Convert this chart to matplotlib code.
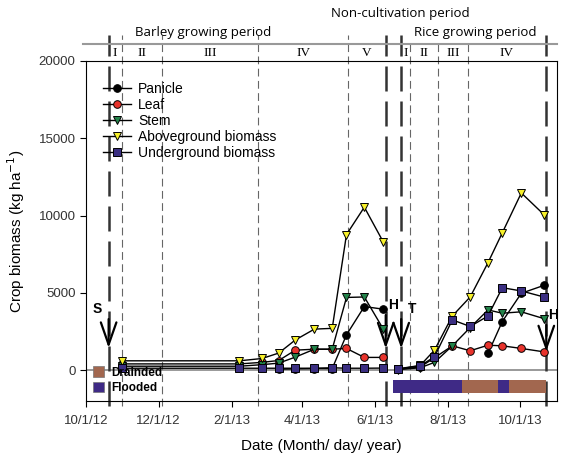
import pandas as pd
import matplotlib.pyplot as plt
import matplotlib.dates as mdates
from matplotlib.patches import Patch

plt.rcParams['font.family'] = ['Liberation Sans', 'DejaVu Sans']

# barley sampling dates and biomass (kg/ha)
barley_dates = ['2012-10-31', '2013-02-07', '2013-02-26', '2013-03-12', '2013-03-26',
                '2013-04-11', '2013-04-26', '2013-05-08', '2013-05-23', '2013-06-08']
barley_panicle = [None, None, None, 60, 80, 100, 100, 2280, 4110, 3940]
barley_leaf = [400, 400, 500, 620, 1290, 1350, 1350, 1400, 820, 820]
barley_stem = [250, 250, 350, 450, 840, 1350, 1350, 4700, 4730, 2650]
barley_above = [600, 600, 750, 1100, 1950, 2650, 2700, 8770, 10540, 8280]
barley_under = [120, 120, 120, 120, 120, 120, 150, 120, 120, 130]

# rice sampling dates and biomass (kg/ha)
rice_dates = ['2013-06-20', '2013-07-09', '2013-07-21', '2013-08-05', '2013-08-20',
              '2013-09-04', '2013-09-16', '2013-10-02', '2013-10-21']
rice_panicle = [None, None, None, None, None, 1080, 3140, 4970, 5480]
rice_leaf = [50, 200, 800, 1570, 1250, 1610, 1570, 1400, 1180]
rice_stem = [30, 150, 500, 1570, 2750, 3890, 3680, 3770, 3330]
rice_above = [80, 300, 1290, 3500, 4730, 6950, 8880, 11460, 10060]
rice_under = [60, 280, 860, 3250, 2820, 3500, 5330, 5120, 4730]

# field events: sowing, harvest, transplanting, harvest
event_dates = ['2012-10-20', '2013-06-10', '2013-06-23', '2013-10-23']
event_labels = ['S', 'H', 'T', 'H']

# growth stage boundaries
barley_bounds = ['2012-10-20', '2012-10-31', '2012-12-04', '2013-02-23', '2013-05-09', '2013-06-10']
barley_stages = ['I', 'II', 'III', 'IV', 'V']
rice_bounds = ['2013-06-23', '2013-06-30', '2013-07-24', '2013-08-18', '2013-10-23']
rice_stages = ['I', 'II', 'III', 'IV']

# water regime in rice paddy
water_start = ['2013-06-16', '2013-08-13', '2013-09-12', '2013-09-22']
water_end = ['2013-08-13', '2013-09-12', '2013-09-22', '2013-10-23']
water_state = ['Flooded', 'Drainded', 'Flooded', 'Drainded']

series = [
    ('Panicle', barley_panicle, rice_panicle, 'o', 'black'),
    ('Leaf', barley_leaf, rice_leaf, 'o', '#e8332c'),
    ('Stem', barley_stem, rice_stem, 'v', '#23834a'),
    ('Aboveground biomass', barley_above, rice_above, 'v', '#f7f02a'),
    ('Underground biomass', barley_under, rice_under, 's', '#3b2f82'),
]
water_colors = {'Drainded': '#a2674f', 'Flooded': '#3f2a86'}

fig = plt.figure(figsize=(5.86, 4.69), dpi=100)
ax = fig.add_axes([0.1468, 0.145, 0.8037, 0.725])

bd = pd.to_datetime(barley_dates)
rd = pd.to_datetime(rice_dates)
for name, b, r, mk, col in series:
    b = pd.Series(b, dtype=float)
    r = pd.Series(r, dtype=float)
    ax.plot(bd, b, color='black', lw=1, marker=mk, ms=5.5, mfc=col, mec='black',
            mew=0.7, label=name, zorder=5)
    ax.plot(rd, r, color='black', lw=1, marker=mk, ms=5.5, mfc=col, mec='black',
            mew=0.7, zorder=5)

ax.axhline(0, color='#888888', lw=1.2, zorder=1)

# stage boundary lines
thin = dict(color='#666666', lw=0.8, dashes=(7, 4), clip_on=False, ymin=-0.015)
for d in barley_bounds[1:-1]:
    ax.axvline(pd.Timestamp(d), ymax=1.076, **thin)
for d in rice_bounds[1:-1]:
    ax.axvline(pd.Timestamp(d), ymax=1.05, **thin)
for d in event_dates:
    ax.axvline(pd.Timestamp(d), ymin=-0.015, ymax=1.076, color='#333333', lw=1.8,
               dashes=(10, 4), clip_on=False)

# stage numerals in header band
trans = ax.get_xaxis_transform()
for bounds, stages in [(barley_bounds, barley_stages), (rice_bounds, rice_stages)]:
    bt = pd.to_datetime(bounds)
    for i, s in enumerate(stages):
        mid = bt[i] + (bt[i + 1] - bt[i]) / 2
        ax.text(mid, 1.024, s, transform=trans, ha='center', va='center',
                fontsize=9.5, family='Liberation Serif')

ax.plot([-0.007, 1.0], [1.05, 1.05], transform=ax.transAxes, color='#999999',
        lw=1.5, clip_on=False)
ax.text((203 - 86) / 471, 1.085, 'Barley growing period', transform=ax.transAxes,
        ha='center', va='center', fontsize=9.5, family='Open Sans')
ax.text((475 - 86) / 471, 1.085, 'Rice growing period', transform=ax.transAxes,
        ha='center', va='center', fontsize=9.5, family='Open Sans')
ax.text((400 - 86) / 471, 1.14, 'Non-cultivation period', transform=ax.transAxes,
        ha='center', va='center', fontsize=9.5, family='Open Sans')

# event arrows
arrow_tops = [3480, 3740, 3480, 3100]
arrow_heads = [1250, 1220, 1220, 1030]
label_dx = [-8, 5, 8, 5]
for d, lab, yt, yh, dx in zip(event_dates, event_labels, arrow_tops, arrow_heads, label_dx):
    t = pd.Timestamp(d)
    ax.annotate('', xy=(t, yh), xytext=(t, yt),
                arrowprops=dict(arrowstyle='->, head_length=0.8, head_width=0.28',
                                mutation_scale=20, lw=1.6, color='black'))
    ax.annotate(lab, xy=(t, yt), xytext=(dx, 0), textcoords='offset points',
                ha='center', va='bottom', fontsize=10, fontweight='bold')

# water regime bar
for s, e, st in zip(water_start, water_end, water_state):
    s0 = mdates.date2num(pd.Timestamp(s))
    e0 = mdates.date2num(pd.Timestamp(e))
    ax.bar(s0, -860, width=e0 - s0, bottom=-620, align='edge',
           color=water_colors[st], edgecolor='none', zorder=3)

ax.set_ylim(-2000, 20000)
ax.set_xlim(pd.Timestamp('2012-10-01'), pd.Timestamp('2013-11-01'))
ax.set_yticks([0, 5000, 10000, 15000, 20000])
ax.xaxis.set_major_locator(mdates.MonthLocator(bymonth=[2, 4, 6, 8, 10, 12]))
ax.xaxis.set_major_formatter(plt.FuncFormatter(
    lambda v, p: (lambda d: f"{d.month}/{d.day}/{d.strftime('%y')}")(mdates.num2date(v))))
ax.tick_params(direction='out', length=4, labelsize=9.5, labelcolor='#333333')
ax.tick_params(axis='x', pad=6)

ax.set_xlabel('Date (Month/ day/ year)', fontsize=11, labelpad=9)
ax.set_ylabel('Crop biomass (kg ha$^{-1}$)', fontsize=11, labelpad=8)

leg = ax.legend(loc='upper left', bbox_to_anchor=(0.025, 0.955), frameon=False,
                fontsize=10, handlelength=2.0, handletextpad=0.5, labelspacing=0.15,
                borderaxespad=0)
ax.add_artist(leg)

wh = [Patch(facecolor=water_colors[k], edgecolor='#777777', lw=0.5) for k in ['Drainded', 'Flooded']]
ax.legend(wh, ['Drainded', 'Flooded'], loc='lower left', bbox_to_anchor=(0.0, 0.0),
          frameon=False, handlelength=0.9, handleheight=1.0, handletextpad=0.6,
          labelspacing=0.25, prop={'size': 8.5, 'weight': 'bold'}, borderaxespad=0.2)

fig.savefig('out.png', dpi=100)
